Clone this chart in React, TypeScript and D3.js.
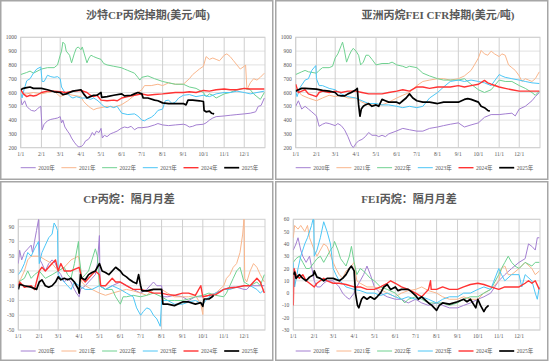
import * as d3 from 'd3';
import React, { useEffect, useRef } from 'react';

type Pt = [number, number, number]; // month, day, value

const monthLabels = ['1/1', '2/1', '3/1', '4/1', '5/1', '6/1', '7/1', '8/1', '9/1', '10/1', '11/1', '12/1'];
const yearLabels = ['2020年', '2021年', '2022年', '2023年', '2024年', '2025年'];
const colors = ['#a37fd1', '#f9b68c', '#6fd190', '#4cc6f6', '#ff3333', '#000000'];
const widths = [1, 1, 1, 1, 1.4, 1.7];

// 沙特CP丙烷掉期
const cp2020: Pt[] = [[1,1,560],[1,3,510],[1,7,540],[1,10,500],[1,14,480],[1,17,470],[1,22,465],[1,26,480],[1,29,495],[1,31,500],[2,2,330],[2,5,370],[2,10,395],[2,15,405],[2,20,410],[2,25,415],[3,1,425],[3,3,380],[3,5,400],[3,8,350],[3,12,320],[3,15,300],[3,18,270],[3,22,240],[3,26,215],[3,29,205],[4,2,210],[4,5,225],[4,8,250],[4,12,260],[4,15,280],[4,18,310],[4,21,290],[4,24,320],[4,28,310],[5,1,340],[5,3,270],[5,6,290],[5,10,280],[5,15,300],[5,20,310],[5,25,320],[5,31,340],[6,5,350],[6,10,345],[6,15,355],[6,20,330],[6,25,345],[7,1,345],[7,10,350],[7,20,365],[7,25,375],[8,1,365],[8,10,360],[8,20,365],[9,1,370],[9,5,365],[9,10,350],[9,15,355],[9,20,365],[10,1,370],[10,5,380],[10,10,400],[10,15,415],[10,20,425],[11,1,430],[11,10,435],[11,20,440],[12,1,445],[12,10,450],[12,18,460],[12,22,500],[12,26,505],[12,31,560]];
const cp2021: Pt[] = [[1,1,620],[1,5,590],[1,10,590],[1,20,600],[2,1,590],[2,10,600],[2,20,610],[3,1,570],[3,10,590],[3,20,580],[4,1,570],[4,5,535],[4,10,510],[4,15,490],[4,20,475],[4,25,485],[5,1,490],[5,10,500],[5,20,495],[5,31,510],[6,10,540],[6,20,580],[6,25,600],[7,1,620],[7,5,650],[7,15,650],[7,25,660],[8,1,650],[8,10,670],[8,20,660],[9,1,660],[9,10,700],[9,15,730],[9,20,750],[9,25,770],[10,1,790],[10,5,860],[10,10,840],[10,15,850],[10,20,840],[10,25,830],[11,1,870],[11,5,880],[11,10,860],[11,15,830],[11,20,800],[11,25,770],[12,1,790],[12,3,800],[12,5,620],[12,10,670],[12,15,700],[12,20,690],[12,25,710],[12,31,740]];
const cp2022: Pt[] = [[1,1,730],[1,10,745],[1,15,755],[1,20,740],[2,1,770],[2,10,780],[2,20,780],[2,25,800],[3,1,870],[3,3,900],[3,5,965],[3,8,950],[3,10,900],[3,15,870],[3,18,815],[3,22,880],[3,25,920],[3,28,930],[4,1,910],[4,3,930],[4,6,880],[4,10,815],[4,13,850],[4,16,870],[4,20,860],[4,25,850],[5,1,840],[5,5,810],[5,10,800],[5,20,790],[5,31,780],[6,5,770],[6,10,760],[6,15,750],[6,20,740],[6,25,710],[6,28,690],[7,1,710],[7,10,720],[7,20,700],[8,1,680],[8,10,670],[8,20,660],[9,1,660],[9,10,640],[9,20,630],[10,1,600],[10,5,570],[10,10,590],[10,15,580],[10,20,560],[11,1,590],[11,10,600],[11,20,620],[12,1,630],[12,10,620],[12,15,590],[12,20,570],[12,25,550],[12,31,600]];
const cp2023: Pt[] = [[1,1,600],[1,3,560],[1,6,620],[1,10,685],[1,15,700],[1,20,740],[1,25,770],[1,31,785],[2,2,680],[2,5,680],[2,10,725],[2,15,715],[2,20,710],[2,25,715],[3,1,700],[3,3,640],[3,8,600],[3,12,590],[3,16,570],[3,20,560],[3,25,570],[4,1,560],[4,10,560],[4,15,550],[4,20,560],[4,25,545],[5,1,520],[5,5,500],[5,10,490],[5,15,500],[5,20,490],[5,25,500],[6,1,450],[6,10,440],[6,20,445],[6,25,430],[7,1,400],[7,5,395],[7,10,410],[7,15,420],[7,20,440],[7,25,470],[8,1,480],[8,5,540],[8,10,545],[8,15,520],[8,20,530],[8,25,560],[9,1,580],[9,10,585],[9,20,570],[10,1,580],[10,10,570],[10,20,590],[11,1,600],[11,10,600],[11,20,610],[12,1,600],[12,10,590],[12,20,600],[12,31,610]];
const cp2024: Pt[] = [[1,1,620],[1,5,590],[1,10,570],[1,15,580],[1,20,575],[1,25,580],[2,1,600],[2,10,610],[2,20,610],[3,1,605],[3,10,600],[3,20,610],[4,1,615],[4,10,600],[4,15,580],[4,20,570],[4,25,580],[5,1,545],[5,10,540],[5,20,545],[5,25,540],[6,1,560],[6,10,570],[6,20,580],[7,1,590],[7,10,580],[7,20,585],[8,1,590],[8,10,595],[8,20,600],[9,1,600],[9,10,605],[9,20,600],[10,1,615],[10,10,610],[10,20,620],[11,1,625],[11,10,620],[11,20,620],[12,1,630],[12,10,625],[12,20,625],[12,31,625]];
const cp2025: Pt[] = [[1,1,620],[1,5,630],[1,10,635],[1,15,640],[1,20,630],[2,1,630],[2,10,620],[2,20,605],[3,1,600],[3,5,585],[3,10,590],[3,15,600],[3,20,610],[4,1,620],[4,5,590],[4,10,560],[4,15,570],[4,20,580],[4,25,580],[5,1,600],[5,2,565],[5,10,570],[5,20,580],[6,1,590],[6,5,575],[6,15,580],[6,20,590],[6,25,600],[7,1,590],[7,3,560],[7,10,560],[7,20,545],[7,25,540],[8,1,525],[8,10,520],[8,20,520],[9,1,520],[9,5,510],[9,8,545],[9,15,545],[9,25,540],[10,1,535],[10,2,470],[10,5,460],[10,10,465],[10,13,450],[10,17,445]];

// 亚洲丙烷FEI CFR掉期
const fei2020: Pt[] = [[1,1,500],[1,5,540],[1,10,480],[1,15,500],[1,20,480],[1,25,460],[2,1,430],[2,5,355],[2,10,370],[2,15,380],[2,20,375],[3,1,360],[3,5,375],[3,10,360],[3,15,330],[3,20,280],[3,25,220],[3,28,200],[4,1,230],[4,5,250],[4,10,260],[4,15,280],[4,20,310],[4,25,290],[5,1,290],[5,5,280],[5,10,290],[5,15,280],[5,20,300],[5,31,320],[6,10,340],[6,20,330],[7,1,320],[7,10,320],[7,20,340],[8,1,350],[8,10,360],[8,20,370],[9,1,380],[9,10,350],[9,20,365],[10,1,380],[10,10,420],[10,20,440],[11,1,440],[11,10,445],[11,20,450],[11,25,430],[12,1,480],[12,10,500],[12,20,540],[12,25,570],[12,31,600]];
const fei2021: Pt[] = [[1,1,630],[1,10,580],[1,20,560],[2,1,540],[2,10,560],[2,20,580],[3,1,570],[3,10,580],[3,20,560],[4,1,560],[4,10,530],[4,20,510],[5,1,510],[5,10,510],[5,20,530],[6,1,560],[6,10,580],[6,20,600],[7,1,650],[7,10,680],[7,20,690],[8,1,700],[8,10,700],[8,20,690],[9,1,700],[9,10,720],[9,20,760],[9,25,800],[10,1,850],[10,5,905],[10,10,880],[10,15,870],[10,20,900],[10,25,880],[11,1,860],[11,5,880],[11,10,870],[11,15,800],[11,20,780],[11,25,760],[12,1,720],[12,5,680],[12,10,700],[12,15,690],[12,20,680],[12,25,700],[12,31,750]];
const fei2022: Pt[] = [[1,1,730],[1,10,750],[1,15,760],[1,20,750],[2,1,740],[2,5,760],[2,10,780],[2,20,780],[2,25,790],[3,1,850],[3,5,880],[3,10,940],[3,12,965],[3,15,900],[3,18,820],[3,22,870],[3,25,900],[3,28,920],[4,1,900],[4,5,870],[4,8,800],[4,12,820],[4,16,870],[4,20,870],[4,25,840],[5,1,800],[5,10,810],[5,20,810],[5,25,820],[6,1,800],[6,10,790],[6,15,780],[6,20,790],[7,1,780],[7,10,740],[7,20,720],[8,1,700],[8,10,690],[8,20,690],[9,1,690],[9,10,700],[9,20,660],[10,1,620],[10,10,600],[10,20,620],[11,1,690],[11,10,680],[11,20,680],[12,1,650],[12,10,630],[12,20,600],[12,25,580],[12,31,610]];
const fei2023: Pt[] = [[1,1,610],[1,3,570],[1,8,640],[1,15,690],[1,20,700],[1,25,760],[1,31,795],[2,1,700],[2,5,650],[2,10,650],[2,15,640],[2,20,630],[3,1,620],[3,10,590],[3,20,570],[4,1,560],[4,10,540],[4,20,520],[5,1,520],[5,10,510],[5,20,510],[6,1,500],[6,10,490],[6,20,500],[7,1,490],[7,10,500],[7,20,560],[8,1,600],[8,10,640],[8,20,680],[9,1,690],[9,10,680],[9,20,690],[10,1,680],[10,10,670],[10,20,650],[11,1,730],[11,5,720],[11,10,710],[11,20,700],[12,1,690],[12,10,680],[12,20,670],[12,31,665]];
const fei2024: Pt[] = [[1,1,660],[1,3,630],[1,5,600],[1,10,610],[1,15,620],[1,20,590],[2,1,570],[2,5,600],[2,10,610],[2,20,600],[3,1,610],[3,10,600],[3,20,610],[4,1,610],[4,10,600],[4,20,590],[5,1,590],[5,10,590],[5,20,600],[6,1,610],[6,10,620],[6,20,610],[7,1,640],[7,10,640],[7,20,630],[8,1,640],[8,10,640],[8,20,640],[9,1,650],[9,10,640],[9,20,650],[10,1,660],[10,10,688],[10,15,670],[10,20,660],[11,1,640],[11,10,630],[11,20,620],[12,1,610],[12,10,610],[12,20,610],[12,31,610]];
const fei2025: Pt[] = [[1,1,610],[1,5,620],[1,10,630],[1,15,630],[2,1,625],[2,10,615],[2,20,610],[3,1,600],[3,5,580],[3,10,575],[3,15,575],[3,20,590],[3,25,600],[4,1,620],[4,3,630],[4,5,510],[4,7,428],[4,9,480],[4,12,500],[4,15,510],[4,20,520],[4,25,500],[5,1,510],[5,5,500],[5,10,550],[5,15,540],[5,20,530],[6,1,530],[6,5,520],[6,10,540],[6,15,560],[6,20,590],[6,25,560],[7,1,540],[7,10,530],[7,20,530],[8,1,520],[8,10,530],[8,20,530],[9,1,530],[9,10,550],[9,15,556],[9,20,550],[10,1,530],[10,5,500],[10,10,490],[10,15,470],[10,18,465]];

// CP丙烷：隔月月差
const cpSp2020: Pt[] = [[1,1,40],[1,3,58],[1,6,45],[1,10,55],[1,15,60],[1,20,65],[1,22,55],[1,25,70],[1,28,85],[1,31,100],[2,2,45],[2,5,40],[2,10,30],[2,15,40],[2,20,45],[2,25,40],[3,1,30],[3,5,25],[3,10,15],[3,15,20],[3,20,15],[3,25,5],[3,28,0],[4,1,-5],[4,3,5],[4,10,10],[4,15,15],[4,20,20],[4,25,25],[4,28,40],[5,1,78],[5,2,10],[5,10,5],[5,20,10],[6,1,15],[6,10,10],[6,20,5],[7,1,0],[7,10,5],[7,20,15],[7,25,10],[8,1,10],[8,3,-5],[8,10,-5],[8,20,-3],[9,1,-5],[9,10,-10],[9,20,-5],[10,1,-5],[10,10,-3],[10,20,0],[11,1,5],[11,10,8],[11,20,8],[12,1,5],[12,5,5],[12,10,10],[12,20,10],[12,31,10]];
const cpSp2021: Pt[] = [[1,1,15],[1,5,20],[1,10,30],[1,15,45],[1,20,50],[2,1,50],[2,10,45],[2,20,40],[3,1,30],[3,10,35],[3,20,45],[3,31,50],[4,1,45],[4,5,15],[4,10,10],[4,20,5],[5,1,0],[5,10,-3],[5,20,0],[6,1,3],[6,10,5],[6,20,3],[7,1,0],[7,10,-3],[7,20,5],[8,1,5],[8,10,0],[8,20,-5],[9,1,-5],[9,10,-5],[9,20,-3],[9,28,-15],[10,1,-29],[10,2,-5],[10,10,-3],[10,20,0],[11,1,10],[11,5,20],[11,10,25],[11,15,35],[11,20,40],[11,25,55],[11,29,80],[12,1,102],[12,2,20],[12,5,15],[12,10,30],[12,15,40],[12,20,35],[12,25,25],[12,31,15]];
const cpSp2022: Pt[] = [[1,1,15],[1,10,20],[1,15,30],[1,20,20],[1,25,25],[2,1,30],[2,10,20],[2,20,25],[3,1,30],[3,10,35],[3,15,25],[3,20,20],[3,25,40],[3,31,70],[4,1,50],[4,5,20],[4,10,25],[4,15,30],[4,20,45],[4,25,60],[4,28,50],[5,1,10],[5,10,5],[5,20,5],[5,25,-5],[6,1,-15],[6,5,-5],[6,10,-5],[6,20,-3],[7,1,-5],[7,10,-3],[7,20,0],[8,1,-5],[8,10,-10],[8,20,-10],[9,1,-10],[9,10,-8],[9,20,-5],[10,1,-3],[10,10,0],[10,20,-3],[11,1,-5],[11,5,0],[11,10,10],[11,15,20],[11,20,30],[11,25,35],[12,1,15],[12,10,10],[12,20,15],[12,25,10],[12,31,25]];
const cpSp2023: Pt[] = [[1,1,25],[1,5,30],[1,10,40],[1,15,55],[1,20,50],[1,25,60],[1,31,70],[2,1,40],[2,5,55],[2,10,65],[2,15,75],[2,20,80],[2,23,95],[2,26,90],[2,28,85],[3,1,25],[3,5,20],[3,10,15],[3,15,10],[3,20,5],[3,25,15],[4,1,10],[4,10,5],[4,20,5],[5,1,10],[5,10,5],[5,20,10],[6,1,5],[6,10,0],[6,20,-5],[6,25,-20],[7,1,-30],[7,5,-25],[7,10,-20],[7,15,-22],[7,20,-30],[7,25,-35],[7,30,-45],[8,1,-10],[8,10,-10],[8,20,-15],[9,1,-15],[9,10,-12],[9,20,-10],[10,1,-15],[10,10,-5],[10,20,0],[11,1,5],[11,10,5],[11,20,8],[12,1,10],[12,10,10],[12,20,5],[12,25,0],[12,31,5]];
const cpSp2024: Pt[] = [[1,1,10],[1,3,15],[1,10,8],[1,20,10],[1,25,5],[2,1,30],[2,5,35],[2,10,30],[2,15,35],[2,20,40],[2,25,45],[3,1,30],[3,5,40],[3,10,30],[3,20,30],[4,1,35],[4,5,20],[4,10,15],[4,15,20],[4,20,25],[4,25,30],[5,1,25],[5,3,10],[5,10,10],[5,15,15],[5,20,20],[5,25,15],[6,1,15],[6,10,10],[6,20,5],[7,1,5],[7,10,3],[7,20,0],[8,1,0],[8,10,-2],[8,20,-3],[9,1,0],[9,10,0],[9,20,-3],[9,28,10],[10,1,-5],[10,10,-3],[10,20,-2],[11,1,5],[11,10,7],[11,20,8],[12,1,10],[12,10,10],[12,15,15],[12,20,20],[12,25,15],[12,31,0]];
const cpSp2025: Pt[] = [[1,1,5],[1,3,12],[1,10,10],[1,20,8],[1,28,5],[2,1,15],[2,5,18],[2,10,10],[2,15,8],[2,20,10],[2,25,15],[3,1,22],[3,5,18],[3,10,20],[3,15,18],[3,20,20],[3,25,15],[3,31,5],[4,1,0],[4,3,25],[4,5,20],[4,10,18],[4,15,25],[4,20,28],[4,25,30],[4,28,35],[5,1,40],[5,5,30],[5,10,28],[5,15,25],[5,20,30],[5,25,35],[6,1,30],[6,5,25],[6,10,22],[6,15,18],[6,20,15],[6,25,13],[6,28,25],[7,1,10],[7,3,3],[7,10,3],[7,20,5],[8,1,5],[8,3,-15],[8,10,-15],[8,20,-17],[9,1,-12],[9,10,-12],[9,20,-15],[9,28,-13],[10,1,-18],[10,3,-8],[10,10,-8],[10,15,-5],[10,17,-3]];

// FEI丙烷：隔月月差
const feiSp2020: Pt[] = [[1,1,35],[1,5,40],[1,8,45],[1,12,35],[1,15,30],[1,20,25],[1,25,30],[2,1,10],[2,5,5],[2,10,5],[2,15,8],[2,20,10],[3,1,10],[3,10,5],[3,15,0],[3,20,-3],[3,25,-5],[4,1,0],[4,5,5],[4,10,10],[4,15,15],[4,20,22],[4,25,15],[5,1,5],[5,10,0],[5,20,-3],[6,1,-5],[6,10,-5],[6,20,-8],[7,1,-5],[7,10,-8],[7,20,-10],[8,1,-8],[8,10,-10],[8,20,-12],[9,1,-12],[9,10,-10],[9,20,-8],[10,1,-5],[10,10,-3],[10,20,0],[11,1,10],[11,10,15],[11,20,20],[12,1,25],[12,10,28],[12,15,40],[12,20,38],[12,25,35],[12,28,45],[12,31,45]];
const feiSp2021: Pt[] = [[1,1,45],[1,3,55],[1,8,52],[1,12,55],[1,18,50],[1,22,55],[1,25,45],[2,1,35],[2,5,30],[2,10,35],[2,15,40],[2,20,38],[3,1,25],[3,5,20],[3,10,15],[3,15,12],[3,20,18],[3,25,20],[4,1,25],[4,5,10],[4,10,8],[4,20,5],[5,1,5],[5,10,3],[5,20,0],[6,1,-3],[6,10,0],[6,20,2],[7,1,3],[7,10,5],[7,20,2],[8,1,0],[8,10,-3],[8,20,-5],[9,1,-5],[9,10,-3],[9,20,-5],[10,1,-5],[10,10,0],[10,20,3],[11,1,10],[11,5,20],[11,10,22],[11,15,15],[11,20,15],[12,1,20],[12,10,25],[12,20,20],[12,25,15],[12,31,18]];
const feiSp2022: Pt[] = [[1,1,25],[1,5,28],[1,10,30],[1,15,25],[1,20,20],[1,25,20],[2,1,25],[2,5,28],[2,10,30],[2,15,25],[2,20,30],[2,25,35],[3,1,38],[3,3,42],[3,8,35],[3,12,28],[3,16,25],[3,20,22],[3,25,30],[3,28,38],[4,1,25],[4,5,15],[4,10,20],[4,15,18],[4,20,15],[4,25,12],[5,1,10],[5,10,5],[5,20,3],[6,1,0],[6,10,-5],[6,15,-8],[6,20,-5],[7,1,-3],[7,10,-5],[7,20,-8],[8,1,-8],[8,10,-8],[8,20,-10],[9,1,-8],[9,10,-5],[9,20,-3],[10,1,-3],[10,10,0],[10,20,3],[11,1,15],[11,5,20],[11,10,25],[11,15,30],[11,20,25],[11,25,22],[12,1,20],[12,10,25],[12,20,22],[12,25,25],[12,31,25]];
const feiSp2023: Pt[] = [[1,1,25],[1,3,5],[1,8,20],[1,12,30],[1,18,40],[1,22,45],[1,28,55],[1,31,62],[2,1,30],[2,5,35],[2,10,45],[2,15,58],[2,20,50],[2,25,40],[3,1,20],[3,5,15],[3,10,10],[3,15,8],[3,20,5],[4,1,3],[4,10,2],[4,20,0],[5,1,0],[5,10,-2],[5,20,0],[6,1,-3],[6,10,-5],[6,20,-3],[7,1,-5],[7,10,-3],[7,20,-5],[8,1,-8],[8,10,-5],[8,20,-3],[9,1,-3],[9,10,0],[9,20,0],[10,1,3],[10,10,5],[10,20,3],[11,1,20],[11,5,15],[11,10,10],[11,20,15],[12,1,15],[12,5,5],[12,10,15],[12,20,10],[12,25,0],[12,28,-5],[12,31,5]];
const feiSp2024: Pt[] = [[1,1,-10],[1,2,20],[1,5,15],[1,10,12],[1,15,15],[1,20,10],[1,25,8],[2,1,5],[2,5,8],[2,10,10],[2,15,12],[2,20,10],[3,1,8],[3,10,8],[3,20,7],[4,1,5],[4,10,5],[4,20,3],[5,1,3],[5,10,5],[5,20,8],[5,25,10],[6,1,8],[6,10,5],[6,20,3],[7,1,0],[7,10,-3],[7,15,0],[7,20,3],[7,23,10],[7,24,3],[8,1,3],[8,10,5],[8,20,3],[9,1,3],[9,10,5],[9,20,7],[10,1,8],[10,10,7],[10,20,5],[11,1,3],[11,10,5],[11,20,5],[12,1,5],[12,10,8],[12,15,10],[12,20,8],[12,25,10],[12,31,3]];
const feiSp2025: Pt[] = [[1,1,15],[1,3,17],[1,5,12],[1,10,15],[1,15,12],[1,20,10],[1,25,13],[1,31,15],[2,1,18],[2,5,13],[2,10,12],[2,15,10],[2,20,12],[3,1,12],[3,10,10],[3,15,12],[3,20,15],[3,25,20],[3,28,22],[4,1,18],[4,3,0],[4,6,-10],[4,8,-12],[4,12,-5],[4,15,-3],[4,20,-5],[4,25,-3],[5,1,-5],[5,5,-3],[5,10,0],[5,15,5],[5,20,7],[5,25,3],[6,1,5],[6,5,2],[6,10,3],[6,20,3],[6,25,1],[7,1,-2],[7,5,-5],[7,10,-3],[7,20,-8],[7,25,-10],[8,1,-14],[8,5,-10],[8,10,-8],[8,20,-9],[9,1,-7],[9,10,-5],[9,15,-7],[9,20,-5],[9,28,-12],[10,1,-5],[10,5,-10],[10,10,-15],[10,13,-12],[10,17,-10]];

interface PanelProps {
  id: string;
  ox: number;
  oy: number;
  title: string;
  titleX: number;
  titleY: number;
  lo: number;
  hi: number;
  step: number;
  left: number;
  top: number;
  bottom: number;
  labelY: number;
  legendY: number;
  series: Pt[][];
}

const serif = "'Liberation Serif', 'DejaVu Serif', serif";
const cjk = "'Liberation Serif', 'Noto Sans CJK SC', serif";

function Panel(props: PanelProps) {
  const ref = useRef<SVGGElement>(null);

  useEffect(() => {
    const { id, title, titleX, titleY, lo, hi, step, left, top, bottom, labelY, legendY, series } = props;
    const right = 265;
    const g = d3.select(ref.current);
    g.selectAll('*').remove();

    g.append('rect')
      .attr('x', 0.75).attr('y', 0.75)
      .attr('width', 272).attr('height', 178.5)
      .attr('fill', '#fff').attr('stroke', '#a6a6a6').attr('stroke-width', 1.5);

    g.append('text')
      .attr('x', titleX).attr('y', titleY)
      .attr('text-anchor', 'middle').attr('dominant-baseline', 'central')
      .attr('font-family', cjk).attr('font-size', 11).attr('font-weight', 'bold')
      .attr('fill', '#595959')
      .text(title);

    const x = d3.scaleTime()
      .domain([new Date(2021, 0, 1), new Date(2022, 0, 1)])
      .range([left, right]);
    const y = d3.scaleLinear().domain([lo, hi]).range([bottom, top]);

    const ticks = d3.range(lo, hi + 0.001, step);
    const monthDates = d3.range(0, 12).map(m => new Date(2021, m, 1));

    g.selectAll('.hgrid').data(ticks).join('line')
      .attr('x1', left).attr('x2', right)
      .attr('y1', d => y(d)).attr('y2', d => y(d))
      .attr('stroke', '#d9d9d9').attr('stroke-width', 0.8);

    g.selectAll('.vgrid').data(monthDates).join('line')
      .attr('x1', d => x(d)).attr('x2', d => x(d))
      .attr('y1', top).attr('y2', bottom)
      .attr('stroke', '#cfcfcf').attr('stroke-width', 1);

    g.append('rect')
      .attr('x', left).attr('y', top)
      .attr('width', right - left).attr('height', bottom - top)
      .attr('fill', 'none').attr('stroke', '#cfcfcf').attr('stroke-width', 1);

    g.selectAll('.ylab').data(ticks).join('text')
      .attr('x', left - 4).attr('y', d => y(d))
      .attr('text-anchor', 'end').attr('dominant-baseline', 'central')
      .attr('font-family', serif).attr('font-size', 5.5).attr('fill', '#595959')
      .text(d => String(d));

    g.selectAll('.xlab').data(monthDates).join('text')
      .attr('x', d => x(d)).attr('y', labelY)
      .attr('text-anchor', 'middle').attr('dominant-baseline', 'central')
      .attr('font-family', serif).attr('font-size', 5.5).attr('fill', '#595959')
      .text((_, i) => monthLabels[i]);

    g.append('clipPath').attr('id', id)
      .append('rect')
      .attr('x', left).attr('y', top)
      .attr('width', right - left).attr('height', bottom - top);

    const line = d3.line<Pt>()
      .x(p => x(new Date(2021, p[0] - 1, p[1])))
      .y(p => y(p[2]));

    const lines = g.append('g').attr('clip-path', `url(#${id})`);
    series.forEach((s, i) => {
      lines.append('path')
        .attr('d', line(s))
        .attr('fill', 'none')
        .attr('stroke', colors[i])
        .attr('stroke-width', widths[i])
        .attr('stroke-linejoin', 'round');
    });

    const legend = g.selectAll('.leg').data(yearLabels).join('g')
      .attr('transform', (_, i) => `translate(${20.7 + i * 40.7},${legendY})`);
    legend.append('line')
      .attr('x1', 0).attr('x2', 15).attr('y1', 0).attr('y2', 0)
      .attr('stroke', (_, i) => colors[i])
      .attr('stroke-width', (_, i) => widths[i]);
    legend.append('text')
      .attr('x', 17.5).attr('y', 0)
      .attr('dominant-baseline', 'central')
      .attr('font-family', cjk).attr('font-size', 5.5).attr('fill', '#595959')
      .text(d => d);
  }, []);

  return <g ref={ref} transform={`translate(${props.ox},${props.oy})`} />;
}

export default function App() {
  return (
    <div style={{ position: 'absolute', left: 0, top: 0 }}>
      <svg width={550} height={362} style={{ display: 'block', background: '#fff' }}>
        <Panel id="c1" ox={0} oy={0} title="沙特CP丙烷掉期(美元/吨)" titleX={148} titleY={15}
          lo={200} hi={1000} step={100} left={20.7} top={37.3} bottom={147.7} labelY={154.3} legendY={167.7}
          series={[cp2020, cp2021, cp2022, cp2023, cp2024, cp2025]} />
        <Panel id="c2" ox={275} oy={0} title="亚洲丙烷FEI CFR掉期(美元/吨)" titleX={163} titleY={15}
          lo={200} hi={1000} step={100} left={20.7} top={37.3} bottom={147.7} labelY={154.3} legendY={167.7}
          series={[fei2020, fei2021, fei2022, fei2023, fei2024, fei2025]} />
        <Panel id="c3" ox={0} oy={181} title="CP丙烷：隔月月差" titleX={129} titleY={18}
          lo={-50} hi={100} step={20} left={18.3} top={38.3} bottom={149} labelY={154.7} legendY={170}
          series={[cpSp2020, cpSp2021, cpSp2022, cpSp2023, cpSp2024, cpSp2025]} />
        <Panel id="c4" ox={275} oy={181} title="FEI丙烷：隔月月差" titleX={134} titleY={18}
          lo={-30} hi={60} step={10} left={18.3} top={38.3} bottom={149} labelY={154.7} legendY={170}
          series={[feiSp2020, feiSp2021, feiSp2022, feiSp2023, feiSp2024, feiSp2025]} />
      </svg>
    </div>
  );
}
